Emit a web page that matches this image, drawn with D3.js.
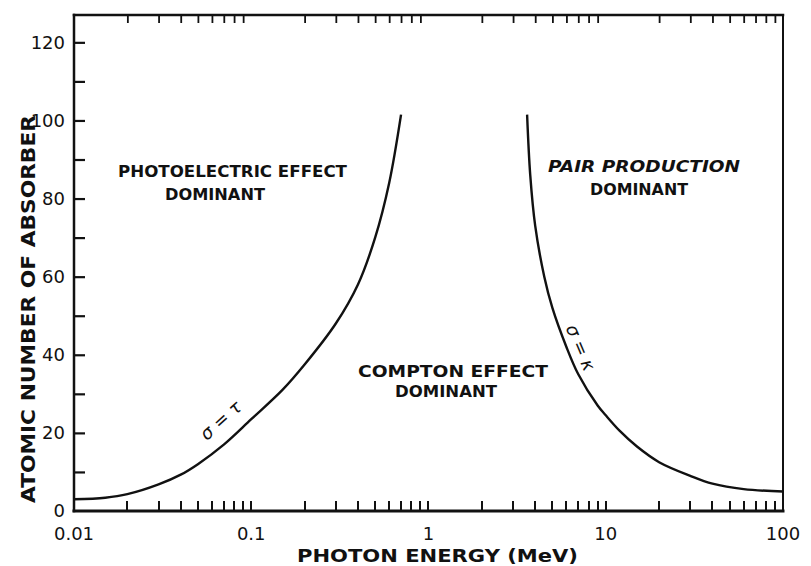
<!DOCTYPE html>
<html>
<head>
<meta charset="utf-8">
<script src="https://cdn.jsdelivr.net/npm/d3@7"></script>
<style>
  body { margin: 0; background: #fff; }
  svg { display: block; }
  text { font-family: "DejaVu Sans", sans-serif; fill: #111; }
</style>
</head>
<body>
<div class="chart"></div>
<script>
// photon energy (MeV) vs atomic number where two effects are equal
const photoComptonE = [0.01, 0.015, 0.02, 0.03, 0.04, 0.05, 0.07, 0.1, 0.15, 0.2, 0.3, 0.4, 0.5, 0.6, 0.7];
const photoComptonZ = [3, 3.4, 4.3, 6.8, 9.3, 12, 17, 23.5, 31, 37.5, 48, 58, 70, 84, 101.5];
const comptonPairE = [3.6, 3.75, 4, 4.5, 5, 6, 7, 9, 10, 12, 15, 20, 30, 40, 60, 100];
const comptonPairZ = [101.5, 86, 73, 60, 52, 42, 35, 27, 24.5, 20.5, 16.5, 12.5, 9, 7, 5.6, 5];

const yTickValues = [0, 20, 40, 60, 80, 100, 120];
const xTickValues = [0.01, 0.1, 1, 10, 100];
const xTickLabels = ["0.01", "0.1", "1", "10", "100"];

const width = 811, height = 566;
const svg = d3.select(".chart").append("svg")
  .attr("width", width).attr("height", height);

const x = d3.scaleLog().domain([0.01, 100]).range([74, 783]);
const y = d3.scaleLinear().domain([0, 127]).range([511, 15]);

// 2..9 in each decade, plus decades on the bottom
const minor = [];
[0.01, 0.1, 1, 10].forEach(d => { for (let k = 2; k <= 9; k++) minor.push(d * k); });
const bottomTicks = minor.concat([0.1, 1, 10]);

// frame
const frame = [
  [0.01, 0, 100, 0, 3],
  [0.01, 127, 100, 127, 2.5],
  [0.01, 0, 0.01, 127, 2.5],
  [100, 0, 100, 127, 2]
];
svg.selectAll(".frame").data(frame).join("line").attr("class", "frame")
  .attr("x1", d => x(d[0])).attr("y1", d => y(d[1]))
  .attr("x2", d => x(d[2])).attr("y2", d => y(d[3]))
  .attr("stroke", "#111").attr("stroke-width", d => d[4]).attr("stroke-linecap", "square");

svg.append("g").attr("class", "xt")
  .attr("transform", `translate(0,${y(127)})`)
  .call(d3.axisTop(x).tickValues(minor).tickSize(-8).tickFormat(""))
  .call(g => g.select(".domain").remove())
  .selectAll("line").attr("stroke", "#111").attr("stroke-width", 1.8);

svg.append("g").attr("class", "yax")
  .attr("transform", `translate(${x(0.01)},0)`)
  .call(d3.axisLeft(y).tickValues(d3.range(10, 121, 10)).tickSize(-11).tickFormat(""))
  .call(g => g.select(".domain").remove())
  .selectAll("line").attr("stroke", "#111").attr("stroke-width", 2.2);

// tick labels
svg.selectAll(".ylab").data(yTickValues).join("text").attr("class", "ylab")
  .attr("x", 65).attr("y", d => y(d)).attr("dy", "0.36em")
  .attr("text-anchor", "end").style("font-size", "18px")
  .text(d => d);

svg.selectAll(".xlab").data(xTickValues).join("text").attr("class", "xlab")
  .attr("x", d => x(d)).attr("y", 540)
  .attr("text-anchor", "middle").style("font-size", "18px")
  .text((d, i) => xTickLabels[i]);

// axis titles
svg.append("text").attr("x", 297).attr("y", 562)
  .attr("textLength", 281).attr("lengthAdjust", "spacingAndGlyphs")
  .style("font-size", "18px").style("font-weight", "bold")
  .text("PHOTON ENERGY (MeV)");

svg.append("text").attr("transform", "translate(35,503) rotate(-90)")
  .attr("textLength", 388).attr("lengthAdjust", "spacingAndGlyphs")
  .style("font-size", "19px").style("font-weight", "bold")
  .text("ATOMIC NUMBER OF ABSORBER");

// curves
const line = d3.line().x(d => x(d[0])).y(d => y(d[1])).curve(d3.curveCatmullRom.alpha(0.5));
const curveLeft = photoComptonE.map((e, i) => [e, photoComptonZ[i]]);
const curveRight = comptonPairE.map((e, i) => [e, comptonPairZ[i]]);
svg.selectAll(".curve").data([curveLeft, curveRight]).join("path").attr("class", "curve")
  .attr("d", line)
  .attr("fill", "none").attr("stroke", "#111").attr("stroke-width", 2.4);

// region labels
function label(txt, x0, x1, base, italic) {
  svg.append("text").attr("x", x0).attr("y", base)
    .attr("textLength", x1 - x0).attr("lengthAdjust", "spacingAndGlyphs")
    .style("font-size", "15px").style("font-weight", "bold")
    .style("font-style", italic ? "italic" : "normal")
    .text(txt);
}
label("PHOTOELECTRIC EFFECT", 118, 347, 177);
label("DOMINANT", 165, 265, 200);
label("COMPTON EFFECT", 358, 548, 377);
label("DOMINANT", 395, 497, 397);
label("PAIR PRODUCTION", 548, 740, 172, true);
label("DOMINANT", 590, 688, 195);

// curve annotations
svg.append("text").attr("transform", "translate(225,425) rotate(-42)")
  .attr("text-anchor", "middle").style("font-size", "18px").style("font-style", "italic")
  .text("σ = τ");
svg.append("text").attr("transform", "translate(575,350) rotate(67)")
  .attr("text-anchor", "middle").style("font-size", "18px").style("font-style", "italic")
  .text("σ = κ");

// bottom ticks as one path, drawn last so nothing covers them
const bt = d3.path();
bottomTicks.forEach(v => {
  const px = Math.round(x(v));
  bt.moveTo(px, y(0));
  bt.lineTo(px, y(0) - 10);
});
svg.append("path").attr("class", "bticks").attr("d", bt.toString())
  .attr("fill", "none").attr("stroke", "#111").attr("stroke-width", 2);
</script>
</body>
</html>
